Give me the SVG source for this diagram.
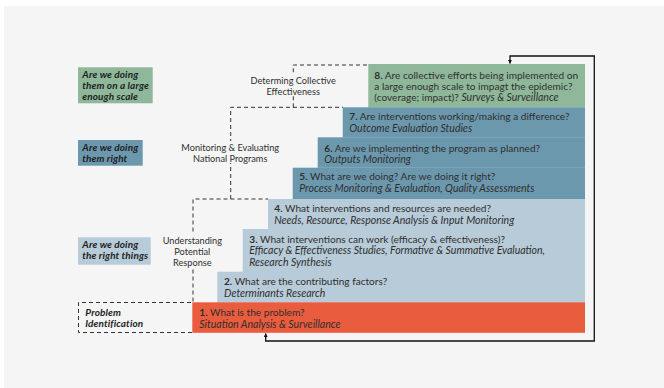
<svg xmlns="http://www.w3.org/2000/svg" width="664" height="388" viewBox="0 0 664 388">
<defs>
<style>
.t{font-family:Lato,"Open Sans","Liberation Sans",sans-serif;font-size:10.1px;fill:#2f2f2f}
.i{font-style:italic;font-size:10.5px}
.b{font-weight:bold}
.lab{font-family:Lato,"Open Sans","Liberation Sans",sans-serif;font-size:10px;letter-spacing:0.1px;font-weight:bold;font-style:italic;fill:#1e1e1e}
.mid{font-family:Lato,"Open Sans","Liberation Sans",sans-serif;font-size:9.2px;fill:#2f2f2f;text-anchor:middle}
.dash{fill:none;stroke:#333;stroke-width:1;stroke-dasharray:4 3}
.conn{fill:none;stroke:#111;stroke-width:1.3}
.g{fill:#8fb89b}.d{fill:#6c98ae}.l{fill:#b7cbd8}.r{fill:#ea5c3e}
.bg{fill:#f5f5f5}
</style>
<marker id="ah" viewBox="0 0 6 6" refX="5.5" refY="3" markerWidth="4" markerHeight="4" orient="auto-start-reverse" markerUnits="userSpaceOnUse">
<path d="M0,0 L6,3 L0,6 z" fill="#111"/>
</marker>
</defs>
<rect x="4" y="6" width="660" height="382" fill="#f5f5f5"/>

<g id="connectors">
<path class="dash" d="M192,332.5 H78.5 V302.5 H193 V199 H268"/>
<path class="dash" d="M230.7,199 V107.3 H343"/>
<path class="dash" d="M293.3,107.3 V65 H368"/>
<path class="conn" d="M510,63.5 V56 H594.3 V341 H265.7 V333.5" marker-start="url(#ah)" marker-end="url(#ah)"/>
</g>

<g id="label-collective">
<rect class="bg" x="246" y="74" width="95" height="22"/>
<text class="mid" x="293.2" y="84.3">Determing Collective</text>
<text class="mid" x="293.2" y="94.6">Effectiveness</text>
</g>
<g id="label-monitoring">
<rect class="bg" x="177" y="141" width="107" height="22"/>
<text class="mid" x="230.2" y="151.3">Monitoring &amp; Evaluating</text>
<text class="mid" x="230.2" y="162.3">National Programs</text>
</g>
<g id="label-understanding">
<rect class="bg" x="158" y="233" width="69" height="35"/>
<text class="mid" x="192.3" y="244.3">Understanding</text>
<text class="mid" x="192.3" y="255.3">Potential</text>
<text class="mid" x="192.3" y="266.3">Response</text>
</g>

<g id="side-scale">
<rect class="g" x="78" y="67.3" width="74.7" height="36"/>
<text class="lab" x="82.3" y="78.3">Are we doing</text>
<text class="lab" x="82.3" y="89.3">them on a large</text>
<text class="lab" x="82.3" y="100.3">enough scale</text>
</g>
<g id="side-right">
<rect class="d" x="78" y="140" width="64.7" height="25.7"/>
<text class="lab" x="82.3" y="151.3">Are we doing</text>
<text class="lab" x="82.3" y="162.3">them right</text>
</g>
<g id="side-things">
<rect class="l" x="78" y="237.3" width="72.7" height="27.4"/>
<text class="lab" x="82.3" y="248.3">Are we doing</text>
<text class="lab" x="82.3" y="259.3">the right things</text>
</g>
<g id="side-problem">
<text class="lab" x="85.3" y="316.3">Problem</text>
<text class="lab" x="85.3" y="326.8">Identification</text>
</g>

<g id="step8">
<rect class="g" x="368.3" y="64" width="216.7" height="43.5"/>
<text class="t" x="374.3" y="78.7"><tspan class="b">8.</tspan> Are collective efforts being implemented on</text>
<text class="t" x="374.3" y="89.7">a large enough scale to impagt the epidemic?</text>
<text class="t" x="374.3" y="101">(coverage; impact)? <tspan class="i">Surveys &amp; Surveillance</tspan></text>
</g>
<g id="step7">
<rect class="d" x="342.7" y="107.3" width="242.3" height="30.2"/>
<text class="t" x="349.3" y="120.2"><tspan class="b">7.</tspan> Are interventions working/making a difference?</text>
<text class="t i" x="349.3" y="132">Outcome Evaluation Studies</text>
</g>
<g id="step6">
<rect class="d" x="317.7" y="137.3" width="267.3" height="30.5"/>
<text class="t" x="324.3" y="151.7"><tspan class="b">6.</tspan> Are we implementing the program as planned?</text>
<text class="t i" x="324.3" y="162.7">Outputs Monitoring</text>
</g>
<g id="step5">
<rect class="d" x="292.7" y="167.7" width="292.3" height="31.5"/>
<text class="t" x="299.3" y="180.2"><tspan class="b">5.</tspan> What are we doing? Are we doing it right?</text>
<text class="t i" x="299.3" y="192.2">Process Monitoring &amp; Evaluation, Quality Assessments</text>
</g>
<g id="step4">
<rect class="l" x="268" y="199" width="317" height="30.2"/>
<text class="t" x="274.3" y="212.2"><tspan class="b">4.</tspan> What interventions and resources are needed?</text>
<text class="t i" x="274.3" y="224">Needs, Resource, Response Analysis &amp; Input Monitoring</text>
</g>
<g id="step3">
<rect class="l" x="242.7" y="229" width="342.3" height="43"/>
<text class="t" x="249.3" y="242.7"><tspan class="b">3.</tspan> What interventions can work (efficacy &amp; effectiveness)?</text>
<text class="t i" x="249.3" y="254.2">Efficacy &amp; Effectiveness Studies, Formative &amp; Summative Evaluation,</text>
<text class="t i" x="249.3" y="266">Research Synthesis</text>
</g>
<g id="step2">
<rect class="l" x="217.3" y="271.7" width="367.7" height="30.8"/>
<text class="t" x="224" y="285.2"><tspan class="b">2.</tspan> What are the contributing factors?</text>
<text class="t i" x="224" y="297">Determinants Research</text>
</g>
<g id="step1">
<rect class="r" x="192.3" y="302.3" width="392.7" height="30.5"/>
<text class="t" x="199.3" y="316.2"><tspan class="b">1.</tspan> What is the problem?</text>
<text class="t i" x="199.3" y="327.5">Situation Analysis &amp; Surveillance</text>
</g>
</svg>
